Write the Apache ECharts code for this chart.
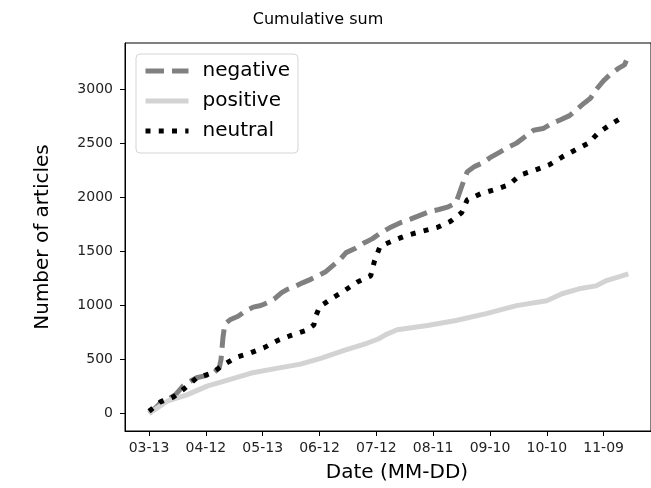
<!DOCTYPE html>
<html>
<head>
<meta charset="utf-8">
<script src="https://cdn.jsdelivr.net/npm/echarts@6/dist/echarts.min.js"></script>
<style>
  html, body { margin: 0; padding: 0; background: #fff; }
  #main { width: 651px; height: 488px; }
</style>
</head>
<body>
<div id="main"></div>
<script>
// x values are days counted from 03-13
var tickDays = [0, 30, 60, 90, 120, 150, 180, 210, 240];
var tickLabels = ['03-13', '04-12', '05-13', '06-12', '07-12', '08-11', '09-10', '10-10', '11-09'];
var yTicks = [0, 500, 1000, 1500, 2000, 2500, 3000];

var negativeDays = [0,4,7,11,14,18,22,25,30,34,37,38,39,40,43,47,51,55,59,63,66,70,73,77,81,85,88,93,97,101,104,109,114,118,122,127,133,138,143,148,153,158,162,164,166,168,172,176,180,185,190,194,199,203,208,213,217,222,226,230,233,236,240,244,248,251,252];
var negativeCounts = [0,60,117,140,175,255,300,330,350,375,420,500,700,830,870,900,950,985,1000,1030,1060,1120,1150,1175,1210,1240,1265,1310,1370,1430,1490,1530,1585,1620,1670,1720,1770,1800,1835,1870,1890,1915,1950,2050,2150,2240,2290,2320,2370,2420,2470,2505,2570,2625,2640,2690,2720,2760,2820,2880,2920,3000,3085,3150,3200,3230,3270];

var positiveDays = [0,10,20,31,42,54,68,80,91,103,115,121,125,131,147,162,178,194,210,218,227,236,241,248,253];
var positiveCounts = [0,117,172,255,310,374,420,457,512,585,650,690,730,775,815,861,925,999,1045,1109,1155,1182,1228,1265,1293];

var neutralDays = [0,6,13,19,25,33,39,46,53,61,68,75,83,87,88,90,97,103,110,117,119,122,128,136,144,152,159,165,168,175,182,190,196,204,211,218,225,232,237,243,250];
var neutralCounts = [20,107,154,236,327,373,447,520,557,612,677,723,769,820,900,988,1071,1136,1218,1274,1411,1549,1595,1650,1687,1723,1778,1860,1980,2035,2072,2118,2210,2256,2302,2376,2441,2505,2597,2671,2745];

function pairs(xs, ys) {
  return xs.map(function (d, i) { return [d, ys[i]]; });
}

var chart = echarts.init(document.getElementById('main'));
var font = 'DejaVu Sans';

var negStyle = { color: '#808080', width: 5, type: [18.5, 8] };
var posStyle = { color: '#d3d3d3', width: 5, type: 'solid' };
var neuStyle = { color: '#000', width: 5, type: [5, 8.25] };

var option = {
  animation: false,
  backgroundColor: '#fff',
  title: {
    text: 'Cumulative sum',
    left: 313,
    top: 7,
    textAlign: 'center',
    textStyle: { fontFamily: font, fontSize: 16, fontWeight: 'normal', color: '#000' }
  },
  grid: {
    left: 125, top: 43, right: -6, bottom: 55,
    show: true, borderColor: '#000', borderWidth: 1
  },
  legend: {
    left: 136, top: 54,
    orient: 'vertical',
    itemWidth: 43, itemHeight: 14, itemGap: 10,
    padding: [7, 8, 12, 7],
    backgroundColor: 'rgba(255,255,255,0.8)',
    borderColor: '#d5d5d5', borderWidth: 1, borderRadius: 4,
    textStyle: { fontFamily: font, fontSize: 20, color: '#000', padding: [0, 0, 0, 9], lineHeight: 20 },
    data: [
      { name: 'negative', itemStyle: { opacity: 0 }, lineStyle: negStyle },
      { name: 'positive', itemStyle: { opacity: 0 }, lineStyle: posStyle },
      { name: 'neutral', itemStyle: { opacity: 0 }, lineStyle: neuStyle }
    ]
  },
  xAxis: {
    type: 'value',
    min: -12.7, max: 265,
    splitLine: { show: false },
    axisLine: { onZero: false, lineStyle: { color: '#000' } },
    axisTick: { customValues: tickDays, length: 5, lineStyle: { color: '#000' } },
    axisLabel: {
      customValues: tickDays, margin: 10,
      fontFamily: font, fontSize: 14, color: '#222',
      formatter: function (v) { return tickLabels[tickDays.indexOf(v)]; }
    },
    name: 'Date (MM-DD)',
    nameLocation: 'middle', nameGap: 32,
    nameTextStyle: { fontFamily: font, fontSize: 20, color: '#000', padding: [0, 0, 0, 18] }
  },
  yAxis: {
    type: 'value',
    min: -163, max: 3433,
    splitLine: { show: false },
    axisLine: { show: true, onZero: false, lineStyle: { color: '#000' } },
    axisTick: { show: true, customValues: yTicks, length: 5, lineStyle: { color: '#000' } },
    axisLabel: {
      customValues: yTicks, margin: 12, fontFamily: font, fontSize: 14, color: '#222',
      formatter: function (v) { return String(v); }
    },
    name: 'Number of articles',
    nameLocation: 'middle', nameGap: 72,
    nameTextStyle: { fontFamily: font, fontSize: 20, color: '#000' }
  },
  series: [
    {
      name: 'negative', type: 'line', showSymbol: false, symbol: 'none',
      data: pairs(negativeDays, negativeCounts),
      color: '#808080',
      lineStyle: negStyle
    },
    {
      name: 'positive', type: 'line', showSymbol: false, symbol: 'none',
      data: pairs(positiveDays, positiveCounts),
      color: '#d3d3d3',
      lineStyle: posStyle
    },
    {
      name: 'neutral', type: 'line', showSymbol: false, symbol: 'none',
      data: pairs(neutralDays, neutralCounts),
      color: '#000',
      lineStyle: neuStyle
    }
  ]
};

chart.setOption(option);
</script>
</body>
</html>
